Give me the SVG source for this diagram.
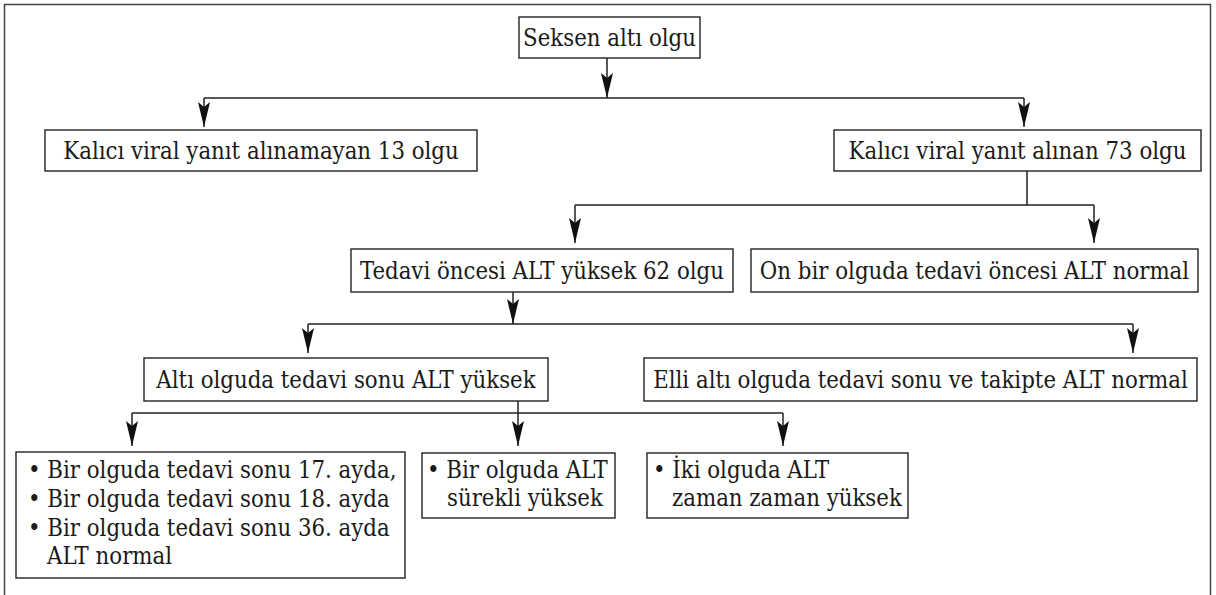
<svg xmlns="http://www.w3.org/2000/svg" width="1216" height="595" viewBox="0 0 1216 595">
<style>
.box{fill:#fff;stroke:#222;stroke-width:1.4}
.t{font-family:"DejaVu Serif Condensed","Liberation Serif",serif;font-stretch:condensed;font-size:23.7px;fill:#1a1a1a}
.c{text-anchor:middle}
.ln{fill:none;stroke:#222;stroke-width:1.5}
.ar{marker-end:url(#ah)}
</style>
<defs>
<marker id="ah" markerUnits="userSpaceOnUse" markerWidth="30" markerHeight="16" viewBox="-26 -8 28 16" refX="0" refY="0" orient="auto">
<path d="M0,0 L-25,-6 L-20,0 L-25,6 Z" fill="#111"/>
</marker>
</defs>
<rect width="1216" height="595" fill="#fff"/>
<path d="M4.5,600 V4.5 H1210.5 V600" fill="none" stroke="#444" stroke-width="1.5"/>
<g id="connectors">
<path class="ln ar" d="M607,58 V98"/>
<path class="ln" d="M204,98 H1024"/>
<path class="ln ar" d="M204,98 V127"/>
<path class="ln ar" d="M1024,98 V127"/>
<path class="ln" d="M1027,171 V205 M575,205 H1094"/>
<path class="ln ar" d="M575,205 V243"/>
<path class="ln ar" d="M1094,205 V243"/>
<path class="ln ar" d="M513,292 V324"/>
<path class="ln" d="M308,324 H1133"/>
<path class="ln ar" d="M308,324 V353"/>
<path class="ln ar" d="M1133,324 V353"/>
<path class="ln ar" d="M518,401 V446"/>
<path class="ln" d="M132,413 H783"/>
<path class="ln ar" d="M132,413 V446"/>
<path class="ln ar" d="M783,413 V446"/>
</g>
<g id="n1"><rect class="box" x="519" y="17" width="181" height="41"/><text class="t c" x="609.5" y="45.5">Seksen altı olgu</text></g>
<g id="n2"><rect class="box" x="45" y="130" width="432" height="41"/><text class="t c" x="261" y="158.5">Kalıcı viral yanıt alınamayan 13 olgu</text></g>
<g id="n3"><rect class="box" x="834" y="130" width="367" height="41"/><text class="t c" x="1017.5" y="158.5">Kalıcı viral yanıt alınan 73 olgu</text></g>
<g id="n4"><rect class="box" x="351" y="249" width="382" height="43"/><text class="t c" x="542" y="278.5">Tedavi öncesi ALT yüksek 62 olgu</text></g>
<g id="n5"><rect class="box" x="751" y="249" width="447" height="43"/><text class="t c" x="974.5" y="278.5">On bir olguda tedavi öncesi ALT normal</text></g>
<g id="n6"><rect class="box" x="144" y="358" width="404" height="43"/><text class="t c" x="346" y="387.5">Altı olguda tedavi sonu ALT yüksek</text></g>
<g id="n7"><rect class="box" x="644" y="358" width="553" height="43"/><text class="t c" x="920.5" y="387.5">Elli altı olguda tedavi sonu ve takipte ALT normal</text></g>
<g id="n8"><rect class="box" x="16" y="452" width="389" height="126"/>
<text class="t" x="28" y="478">• Bir olguda tedavi sonu 17. ayda,</text>
<text class="t" x="28" y="507">• Bir olguda tedavi sonu 18. ayda</text>
<text class="t" x="28" y="536">• Bir olguda tedavi sonu 36. ayda</text>
<text class="t" x="47" y="564">ALT normal</text></g>
<g id="n9"><rect class="box" x="422" y="453" width="193" height="65"/>
<text class="t" x="427" y="478">• Bir olguda ALT</text>
<text class="t" x="447" y="506">sürekli yüksek</text></g>
<g id="n10"><rect class="box" x="647" y="453" width="261" height="65"/>
<text class="t" x="653" y="478">• İki olguda ALT</text>
<text class="t" x="672" y="506">zaman zaman yüksek</text></g>
</svg>
